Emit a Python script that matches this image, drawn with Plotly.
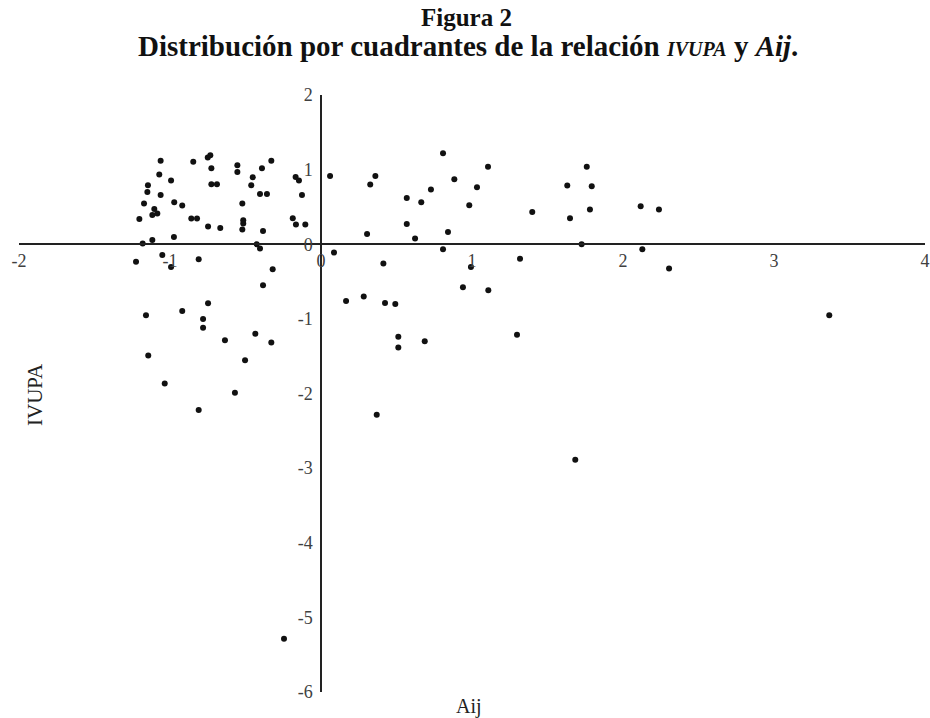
import plotly.graph_objects as go

# Aij (x) and IVUPA (y) values
aij = [-1.062, -0.846, -0.750, -0.733, -0.726, -0.554, -0.554, -0.329, -0.391, -0.452,
       -0.462, -0.168, -0.146, 0.060, -1.071, -0.993, -1.146, -1.150, -1.062, -0.726,
       -0.689, -0.404, -0.358, -0.126, -1.172, -0.972, -0.919, -1.104, -1.117, -1.084,
       -0.521, -1.203, -0.859, -0.821, -0.515, -0.515, -0.521, -0.187, -0.166, -0.104,
       -0.748, -0.667, -0.384, -1.181, -1.117, -0.974, -0.426, -0.404, -1.225, -1.051,
       -0.993, -0.810, -0.320, -0.384, -0.748, -1.159, -0.919, -0.781, -0.781, -0.636,
       -0.435, -0.329, -1.144, -0.503, -1.035, -0.570, -0.810, -0.245,
       0.360, 0.326, 0.808, 1.106, 0.883, 1.033, 0.728, 0.568, 0.664, 0.982,
       0.305, 0.568, 0.623, 0.841, 1.399, 1.760, 1.631, 1.793, 1.781, 1.649,
       1.726, 0.086, 0.808, 0.413, 1.318, 0.993, 0.940, 1.108, 0.166, 0.283,
       0.424, 0.492, 0.512, 0.512, 0.687, 1.298, 2.117, 2.238, 2.128, 2.305,
       3.366, 0.369, 1.684]
ivupa = [1.120, 1.107, 1.161, 1.191, 1.017, 1.058, 0.968, 1.120, 1.017, 0.897,
         0.790, 0.901, 0.853, 0.914, 0.933, 0.853, 0.790, 0.700, 0.660, 0.803,
         0.803, 0.673, 0.673, 0.660, 0.545, 0.562, 0.518, 0.473, 0.392, 0.411,
         0.545, 0.339, 0.344, 0.344, 0.321, 0.277, 0.197, 0.348, 0.264, 0.264,
         0.237, 0.218, 0.178, 0.009, 0.058, 0.098, 0.000, -0.058, -0.234, -0.143,
         -0.304, -0.200, -0.335, -0.549, -0.790, -0.950, -0.893, -1.000, -1.120, -1.285,
         -1.201, -1.316, -1.490, -1.553, -1.865, -1.991, -2.222, -5.288,
         0.914, 0.799, 1.218, 1.040, 0.870, 0.763, 0.732, 0.620, 0.562, 0.522,
         0.138, 0.272, 0.076, 0.165, 0.432, 1.040, 0.786, 0.776, 0.465, 0.348,
         0.000, -0.111, -0.067, -0.258, -0.194, -0.304, -0.576, -0.616, -0.759, -0.700,
         -0.786, -0.799, -1.241, -1.383, -1.299, -1.214, 0.509, 0.465, -0.067, -0.325,
         -0.950, -2.285, -2.888]

x_ticks = [-2, -1, 0, 1, 2, 3, 4]
y_ticks = [-6, -5, -4, -3, -2, -1, 0, 1, 2]

serif = "Liberation Serif"

W, H = 930, 718
ML, MR, MT, MB = 19, 5, 95, 26
PW, PH = W - ML - MR, H - MT - MB


def px(xp):
    return (xp - ML) / PW


def py(yp):
    return (H - MB - yp) / PH


fig = go.Figure()
fig.add_trace(go.Scatter(
    x=aij, y=ivupa, mode="markers",
    marker=dict(size=6, color="#111111"),
    showlegend=False, hoverinfo="x+y"))

fig.update_layout(
    width=W, height=H,
    margin=dict(l=ML, r=MR, t=MT, b=MB, autoexpand=False),
    paper_bgcolor="white", plot_bgcolor="white",
    xaxis=dict(range=[-2, 4], anchor="free", position=0.75, automargin=False,
               showline=True, linecolor="#222222", linewidth=1.5,
               showgrid=False, zeroline=False, ticks="",
               tickvals=x_ticks, ticktext=[str(v) for v in x_ticks],
               tickfont=dict(family=serif, size=18, color="#404040")),
    yaxis=dict(range=[-6, 2], anchor="free", position=1/3, automargin=False,
               showline=True, linecolor="#222222", linewidth=1.5,
               showgrid=False, zeroline=False, ticks="", ticklabelstandoff=4,
               tickvals=y_ticks, ticktext=[str(v) for v in y_ticks],
               tickfont=dict(family=serif, size=18, color="#404040")),
    annotations=[
        dict(text="<b>Figura 2</b>", x=px(466), y=py(18), xref="paper", yref="paper",
             showarrow=False, xanchor="center", yanchor="middle",
             font=dict(family=serif, size=25, color="#111111")),
        dict(text="<b>Distribución por cuadrantes de la relación "
                  "<i><span style='font-size:20px'>IVUPA</span></i> y <i>Aij</i>.</b>",
             x=px(468), y=py(46), xref="paper", yref="paper",
             showarrow=False, xanchor="center", yanchor="middle",
             font=dict(family=serif, size=29, color="#111111")),
        dict(text="IVUPA", x=px(35), y=py(395), xref="paper", yref="paper",
             showarrow=False, textangle=-90, xanchor="center", yanchor="middle",
             font=dict(family=serif, size=21, color="#222222")),
        dict(text="Aij", x=px(469), y=py(706), xref="paper", yref="paper",
             showarrow=False, xanchor="center", yanchor="middle",
             font=dict(family=serif, size=20, color="#222222")),
    ],
)

fig.write_html("out.html", config={"displayModeBar": False},
               post_script="document.body.style.margin='0px';")
